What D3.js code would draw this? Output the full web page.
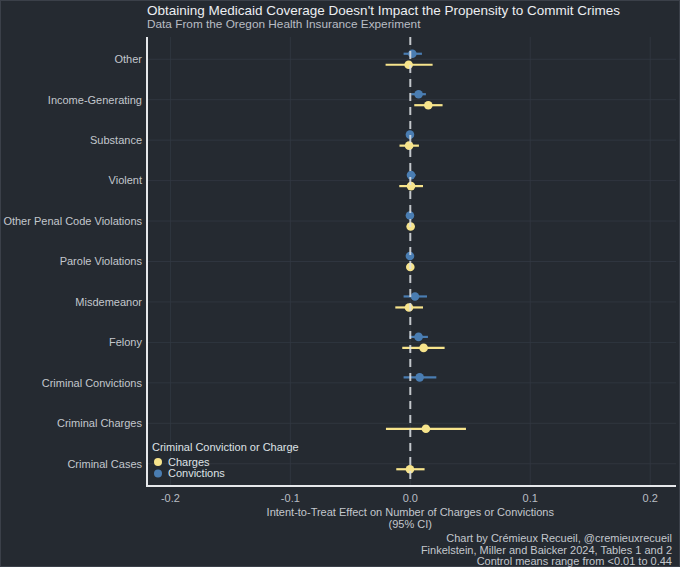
<!DOCTYPE html>
<html><head><meta charset="utf-8">
<script src="https://cdn.jsdelivr.net/npm/d3@7"></script>
<style>
html,body{margin:0;padding:0;background:#252a31;}
svg{display:block;font-family:"Liberation Sans",Arial,Helvetica,sans-serif;}
</style></head>
<body>
<svg id="chart" width="680" height="567"></svg>
<script>
const categories = ["Other","Income-Generating","Substance","Violent","Other Penal Code Violations","Parole Violations","Misdemeanor","Felony","Criminal Convictions","Criminal Charges","Criminal Cases"];
const chargeEst = [-0.0014, 0.0150, -0.0010, 0.0006, 0.0003, 0.0000, -0.0011, 0.0111, null, 0.0130, -0.0003];
const chargeLo  = [-0.0206, 0.0033, -0.0090, -0.0092, -0.0005, -0.0005, -0.0125, -0.0067, null, -0.0203, -0.0117];
const chargeHi  = [0.0186, 0.0269, 0.0072, 0.0106, 0.0010, 0.0005, 0.0106, 0.0286, null, 0.0464, 0.0119];
const convictEst = [0.0017, 0.0069, -0.0003, 0.0006, -0.0003, -0.0003, 0.0039, 0.0069, 0.0078, null, null];
const convictLo  = [-0.0056, 0.0008, -0.0030, -0.0028, -0.0010, -0.0010, -0.0056, -0.0006, -0.0056, null, null];
const convictHi  = [0.0097, 0.0130, 0.0025, 0.0044, 0.0005, 0.0005, 0.0139, 0.0147, 0.0217, null, null];
const seriesNames = ["Charges","Convictions"];
const xTicks = [-0.2, -0.1, 0.0, 0.1, 0.2];
const xTickLabels = ["-0.2","-0.1","0.0","0.1","0.2"];

const colors = {Charges:"#f7e48c", Convictions:"#4a7db2"};
const svg = d3.select("#chart");
const W = 680, H = 567;
const L = 147, R = 676, T = 37, B = 486;

// border
svg.append("rect").attr("x",0).attr("y",0).attr("width",W).attr("height",H).attr("fill","#252a31");
svg.append("rect").attr("x",0.5).attr("y",0.5).attr("width",W-1).attr("height",H-1)
  .attr("fill","none").attr("stroke","#3b4049").attr("stroke-width",1);

const x = d3.scaleLinear().domain([-0.2195, 0.2215]).range([L, R]);
const y = d3.scalePoint().domain(categories).range([T, B]).padding(0.55);
const dodge = d3.scalePoint().domain(["Convictions","Charges"]).range([-5.5, 5.5]);

// grid
const grid = svg.append("g");
grid.selectAll("line.v").data(xTicks).join("line")
  .attr("x1", d=>x(d)).attr("x2", d=>x(d)).attr("y1", T).attr("y2", B)
  .attr("stroke","#323842").attr("stroke-width",0.8);
grid.selectAll("line.h").data(categories).join("line")
  .attr("x1", L).attr("x2", R).attr("y1", d=>y(d)).attr("y2", d=>y(d))
  .attr("stroke","#323842").attr("stroke-width",0.8);

// build rows
const rows = [];
categories.forEach((c,i)=>{
  if (convictEst[i] !== null) rows.push({cat:c, s:"Convictions", est:convictEst[i], lo:convictLo[i], hi:convictHi[i]});
  if (chargeEst[i] !== null) rows.push({cat:c, s:"Charges", est:chargeEst[i], lo:chargeLo[i], hi:chargeHi[i]});
});

const marks = svg.append("g");
marks.selectAll("line.ci").data(rows).join("line")
  .attr("x1", d=>x(d.lo)).attr("x2", d=>x(d.hi))
  .attr("y1", d=>y(d.cat)+dodge(d.s)).attr("y2", d=>y(d.cat)+dodge(d.s))
  .attr("stroke", d=>colors[d.s]).attr("stroke-width", 2.2);
marks.selectAll("circle").data(rows).join("circle")
  .attr("cx", d=>x(d.est)).attr("cy", d=>y(d.cat)+dodge(d.s)).attr("r", 4.3)
  .attr("fill", d=>colors[d.s]);

// zero line
svg.append("line").attr("x1", x(0)).attr("x2", x(0)).attr("y1", T).attr("y2", B)
  .attr("stroke","#dfe2e6").attr("stroke-width",2).attr("stroke-dasharray","8,6")
  .attr("opacity",0.85);

// axes lines
svg.append("line").attr("x1", L).attr("x2", L).attr("y1", T).attr("y2", B+1)
  .attr("stroke","#e6e8eb").attr("stroke-width",2);
svg.append("line").attr("x1", L-1).attr("x2", R).attr("y1", B).attr("y2", B)
  .attr("stroke","#e6e8eb").attr("stroke-width",2);

// y labels
svg.append("g").selectAll("text").data(categories).join("text")
  .attr("x", L-5).attr("y", d=>y(d)).attr("dy","0.35em")
  .attr("text-anchor","end").attr("font-size",11).attr("fill","#c3c7cd").text(d=>d);

// x tick labels
svg.append("g").selectAll("text").data(xTicks).join("text")
  .attr("x", d=>x(d)).attr("y", 502).attr("text-anchor","middle")
  .attr("font-size",11).attr("fill","#b9bdc4").text((d,i)=>xTickLabels[i]);

// axis title
svg.append("text").attr("x", x(0)).attr("y", 516).attr("text-anchor","middle")
  .attr("font-size",11).attr("fill","#c3c7cd").text("Intent-to-Treat Effect on Number of Charges or Convictions");
svg.append("text").attr("x", x(0)).attr("y", 528).attr("text-anchor","middle")
  .attr("font-size",11).attr("fill","#c3c7cd").text("(95% CI)");

// title
svg.append("text").attr("x", L).attr("y", 15).attr("font-size",13.5).attr("fill","#eceef1")
  .text("Obtaining Medicaid Coverage Doesn't Impact the Propensity to Commit Crimes");
svg.append("text").attr("x", L).attr("y", 28).attr("font-size",11.8).attr("fill","#b9bdc4")
  .text("Data From the Oregon Health Insurance Experiment");

// caption
const caption = ["Chart by Crémieux Recueil, @cremieuxrecueil","Finkelstein, Miller and Baicker 2024, Tables 1 and 2","Control means range from <0.01 to 0.44"];
svg.append("g").selectAll("text").data(caption).join("text")
  .attr("x", 672).attr("y", (d,i)=>542+i*11.5).attr("text-anchor","end")
  .attr("font-size",11).attr("fill","#c3c7cd").text(d=>d);

// legend
const lg = svg.append("g");
lg.append("text").attr("x",152).attr("y",451).attr("font-size",11).attr("fill","#dfe2e6")
  .text("Criminal Conviction or Charge");
seriesNames.forEach((s,i)=>{
  lg.append("circle").attr("cx",158).attr("cy",462+i*11.5).attr("r",4).attr("fill",colors[s]);
  lg.append("text").attr("x",168).attr("y",462+i*11.5).attr("dy","0.35em")
    .attr("font-size",11).attr("fill","#dfe2e6").text(s);
});
</script>
</body></html>
